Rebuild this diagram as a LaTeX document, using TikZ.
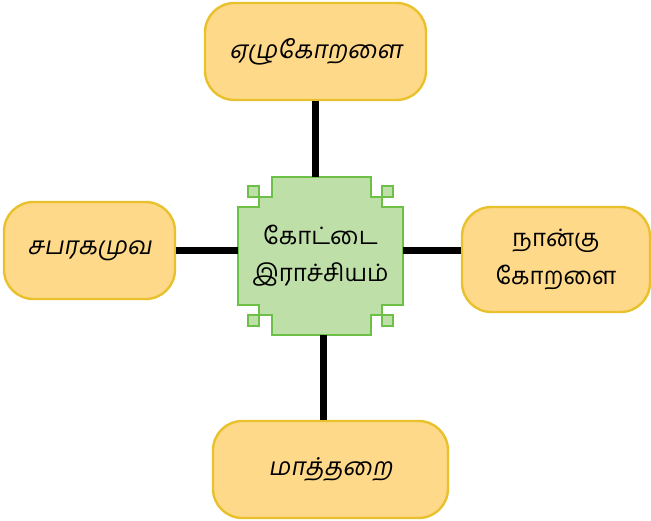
\documentclass[tikz,border=0pt]{standalone}
\usepackage{fontspec}
\usepackage{tikz}
\usetikzlibrary{positioning, calc}
\newfontfamily\tamil[Script=Tamil]{Hind Madurai}
\newfontfamily\tamilit[Script=Tamil,FakeSlant=0.18]{Hind Madurai}
\definecolor{boxfill}{HTML}{FFD98A}
\definecolor{boxline}{HTML}{E8C12C}
\definecolor{greenfill}{HTML}{BFDFA9}
\definecolor{greenline}{HTML}{6CBF47}
\tikzset{
  region/.style={draw=boxline, fill=boxfill, line width=1.8pt, rounded corners=22pt,
    inner sep=0pt, align=center, font=\tamilit\fontsize{18.5}{28}\selectfont},
  link/.style={line width=5.25pt}
}

\begin{document}
\begin{tikzpicture}[x=0.75pt, y=-0.75pt]
  \useasboundingbox (0,0) rectangle (651,521);

  % Central castle shape
  \draw[greenline, fill=greenfill, line width=1.8pt]
    (238,207) -- (259,207) -- (259,197) -- (272,197) -- (272,177)
    -- (371,177) -- (371,197) -- (382,197) -- (382,207) -- (403,207)
    -- (403,305) -- (382,305) -- (382,315) -- (371,315) -- (371,335)
    -- (272,335) -- (272,315) -- (259,315) -- (259,305) -- (238,305) -- cycle;
  \foreach \cx/\cy in {248/186, 382/186, 248/315, 382/315}
    \draw[greenline, fill=greenfill, line width=1.8pt] (\cx,\cy) rectangle ++(11,11);
  \node[minimum width=123.75pt, minimum height=118.5pt, inner sep=0pt, align=center,
    font=\tamil\fontsize{18}{28}\selectfont] (kingdom) at (320.5,256)
    {கோட்டை\\இராச்சியம்};

  % Surrounding regions
  \node[region, minimum width=165.75pt, minimum height=72.75pt] (ezhu) at (315.5,51.5) {ஏழுகோறளை};
  \node[region, minimum width=128.25pt, minimum height=72.75pt] (sabara) at (89.5,250.5) {சபரகமுவ};
  \node[region, minimum width=141pt, minimum height=78.75pt, font=\tamil\fontsize{18}{28}\selectfont]
    (naan) at (556,259.5) {நான்கு\\கோறளை};
  \node[region, minimum width=176.25pt, minimum height=72.75pt] (maath) at (330.5,469.5) {மாத்தறை};

  % Links
  \draw[link] (ezhu.south) -- (ezhu.south |- kingdom.north);
  \draw[link] (sabara.east) -- (sabara.east -| kingdom.west);
  \draw[link] (kingdom.east |- sabara.east) -- (naan.west |- sabara.east);
  \draw[link] ($(kingdom.south)+(2.5,0)$) -- ($(kingdom.south |- maath.north)+(2.5,0)$);
\end{tikzpicture}
\end{document}
